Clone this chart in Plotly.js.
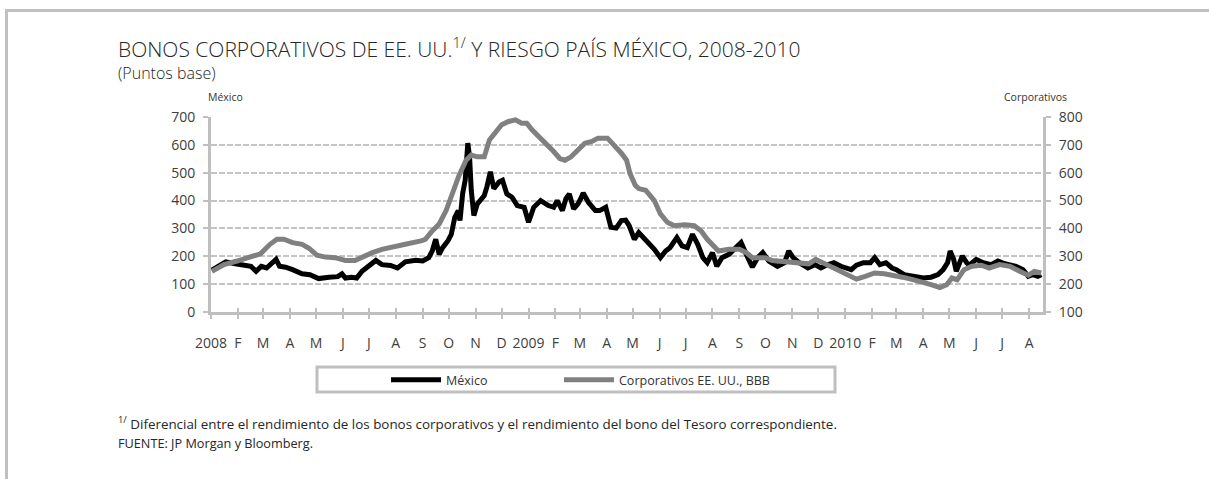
<!DOCTYPE html>
<html><head><meta charset="utf-8">
<script src="https://cdn.plot.ly/plotly-3.0.1.min.js"></script>
<style>
html,body{margin:0;padding:0;background:#fff;}
#chart{position:absolute;left:0;top:0;width:1209px;height:479px;}
#frame{position:absolute;left:5px;top:9px;width:1204px;height:470px;border-top:3px solid #c0c0c0;border-left:3px solid #c0c0c0;box-sizing:border-box;pointer-events:none;}
</style></head><body>
<div id="chart"></div><div id="frame"></div>
<script>
// ---- data ----
var monthTicks = ['2008-01-01','2008-02-01','2008-03-01','2008-04-01','2008-05-01','2008-06-01','2008-07-01','2008-08-01','2008-09-01','2008-10-01','2008-11-01','2008-12-01',
  '2009-01-01','2009-02-01','2009-03-01','2009-04-01','2009-05-01','2009-06-01','2009-07-01','2009-08-01','2009-09-01','2009-10-01','2009-11-01','2009-12-01',
  '2010-01-01','2010-02-01','2010-03-01','2010-04-01','2010-05-01','2010-06-01','2010-07-01','2010-08-01'];
var monthLabels = ['2008','F','M','A','M','J','J','A','S','O','N','D',
  '2009','F','M','A','M','J','J','A','S','O','N','D',
  '2010','F','M','A','M','J','J','A'];

var mexicoDates = ['2008-01-02','2008-01-09','2008-01-18','2008-01-29','2008-02-08','2008-02-16','2008-02-22','2008-02-28','2008-03-05','2008-03-11','2008-03-16','2008-03-20','2008-03-27',
  '2008-04-04','2008-04-15','2008-04-24','2008-05-04','2008-05-16','2008-05-26','2008-05-31','2008-06-04','2008-06-11','2008-06-17','2008-06-23','2008-07-01','2008-07-09','2008-07-16','2008-07-26',
  '2008-08-03','2008-08-12','2008-08-24','2008-09-01','2008-09-08','2008-09-12','2008-09-16','2008-09-20','2008-09-24','2008-09-30','2008-10-04','2008-10-08','2008-10-12','2008-10-14',
  '2008-10-17','2008-10-20','2008-10-23','2008-10-25','2008-10-27','2008-10-30','2008-11-03','2008-11-07','2008-11-11','2008-11-14','2008-11-18','2008-11-22','2008-11-28','2008-12-02',
  '2008-12-07','2008-12-13','2008-12-19','2008-12-27','2009-01-01','2009-01-07','2009-01-15','2009-01-24','2009-01-30','2009-02-03','2009-02-09','2009-02-13','2009-02-17','2009-02-22',
  '2009-02-27','2009-03-02','2009-03-05','2009-03-11','2009-03-19','2009-03-24','2009-03-31','2009-04-06','2009-04-12','2009-04-18','2009-04-23','2009-04-27','2009-05-03','2009-05-08',
  '2009-05-14','2009-05-20','2009-05-26','2009-06-02','2009-06-08','2009-06-13','2009-06-21','2009-06-27','2009-07-03','2009-07-09','2009-07-15','2009-07-21','2009-07-26','2009-08-01',
  '2009-08-06','2009-08-12','2009-08-20','2009-08-28','2009-09-03','2009-09-09','2009-09-16','2009-09-22','2009-09-28','2009-10-05','2009-10-15','2009-10-23','2009-10-28','2009-11-02',
  '2009-11-09','2009-11-19','2009-11-27','2009-12-04','2009-12-10','2009-12-19','2009-12-27','2010-01-08','2010-01-14','2010-01-22','2010-01-30','2010-02-04','2010-02-10','2010-02-17',
  '2010-02-24','2010-03-01','2010-03-10','2010-03-22','2010-04-01','2010-04-10','2010-04-18','2010-04-24','2010-04-29','2010-05-02','2010-05-06','2010-05-09','2010-05-13','2010-05-16',
  '2010-05-21','2010-05-24','2010-06-01','2010-06-09','2010-06-18','2010-06-26','2010-07-04','2010-07-12','2010-07-17','2010-07-25','2010-07-31','2010-08-05','2010-08-11','2010-08-15'];
var mexicoValues = [150,164,180,173,168,164,146,164,158,177,189,164,161,
  152,137,134,120,125,127,137,122,125,122,146,168,185,170,167,
  158,180,186,183,195,219,261,207,231,255,279,340,364,328,
  424,473,606,557,437,346,388,400,418,449,503,443,467,473,
  424,412,382,376,322,376,400,382,376,400,364,406,424,370,
  388,406,427,394,364,364,376,304,301,328,330,310,261,285,
  267,243,225,195,219,231,267,237,231,279,243,195,177,213,
  164,195,207,231,249,207,161,195,213,183,164,177,219,195,
  177,158,170,158,168,177,164,152,168,177,177,195,170,177,
  158,152,134,128,122,125,134,152,177,219,189,146,177,201,
  177,168,189,177,170,183,173,170,164,152,128,134,128,134];

var corpDates = ['2008-01-02','2008-01-16','2008-01-31','2008-02-15','2008-02-27','2008-03-09','2008-03-17','2008-03-25','2008-04-04','2008-04-15','2008-04-23','2008-05-02','2008-05-12',
  '2008-05-23','2008-06-04','2008-06-15','2008-06-23','2008-07-05','2008-07-16','2008-07-28','2008-08-12','2008-08-30','2008-09-04','2008-09-12','2008-09-20','2008-09-28','2008-10-06',
  '2008-10-13','2008-10-21','2008-10-27','2008-11-03','2008-11-11','2008-11-17','2008-11-24','2008-12-01','2008-12-09','2008-12-17','2008-12-24','2008-12-30','2009-01-05','2009-01-13',
  '2009-01-21','2009-01-30','2009-02-06','2009-02-12','2009-02-19','2009-02-28','2009-03-07','2009-03-15','2009-03-22','2009-04-02','2009-04-10','2009-04-18','2009-04-24','2009-04-28',
  '2009-05-04','2009-05-08','2009-05-16','2009-05-26','2009-06-02','2009-06-10','2009-06-18','2009-06-30','2009-07-11','2009-07-19','2009-07-26','2009-08-03','2009-08-08','2009-08-20',
  '2009-09-01','2009-09-09','2009-09-16','2009-09-24','2009-10-01','2009-10-09','2009-10-20','2009-11-01','2009-11-12','2009-11-20','2009-11-28','2009-12-06','2009-12-13','2009-12-24',
  '2010-01-03','2010-01-14','2010-01-24','2010-02-04','2010-02-15','2010-02-26','2010-03-08','2010-03-20','2010-04-01','2010-04-10','2010-04-20','2010-04-28','2010-05-04','2010-05-10',
  '2010-05-18','2010-05-27','2010-06-07','2010-06-16','2010-06-28','2010-07-10','2010-07-21','2010-07-31','2010-08-07','2010-08-15'];
var corpValues = [246,270,283,297,309,343,361,361,349,343,329,304,297,
  295,285,285,297,313,325,331,343,355,361,391,416,464,537,
  591,645,663,657,657,718,742,772,784,790,778,778,754,730,
  706,676,651,645,657,682,706,712,724,724,700,670,645,597,
  555,543,537,500,452,422,410,413,410,391,361,331,319,325,
  325,313,295,295,295,285,283,280,277,273,289,277,264,252,
  234,218,228,240,237,232,225,216,208,198,188,198,222,216,
  252,264,268,258,270,264,246,232,246,240];

var seriesNames = ['México','Corporativos EE. UU., BBB'];

// ---- layout helpers (pixel geometry of the plot area) ----
var L = 211, R = 1043, T = 117, B = 312;
function px(x){ return (x - L) / (R - L); }
function py(y){ return (B - y) / (B - T); }

var FONT = 'Open Sans, Noto Sans, sans-serif';
var AX = '#bfbfbf';
var TXT = '#333333';

var traces = [
  {x: mexicoDates, y: mexicoValues, name: seriesNames[0], type: 'scatter', mode: 'lines',
   line: {color: '#000000', width: 5}, yaxis: 'y', xaxis: 'x', legend: 'legend', hoverinfo: 'x+y'},
  {x: corpDates, y: corpValues, name: seriesNames[1], type: 'scatter', mode: 'lines',
   line: {color: '#808080', width: 5}, yaxis: 'y2', xaxis: 'x', legend: 'legend2', hoverinfo: 'x+y'},
  {x: [monthTicks[0]], y: [null], xaxis: 'x2', yaxis: 'y', showlegend: false, hoverinfo: 'skip', mode: 'lines'}
];

var tickFont = {family: FONT, size: 14, color: '#404040'};
var legendFont = {family: FONT, size: 12.5, color: TXT};

var layout = {
  width: 1209, height: 479,
  margin: {l: L, r: 1209 - R, t: T, b: 479 - B, pad: 0},
  paper_bgcolor: '#ffffff', plot_bgcolor: '#ffffff',
  font: {family: FONT, color: '#404040', size: 12},
  showlegend: true,
  xaxis: {
    type: 'date', range: ['2008-01-01', '2010-08-17'],
    tickmode: 'array', tickvals: monthTicks, ticktext: monthLabels,
    ticks: 'outside', ticklen: 4, tickwidth: 2, tickcolor: AX,
    showline: true, linecolor: AX, linewidth: 3,
    showgrid: false, zeroline: false,
    tickfont: tickFont, ticklabelstandoff: 12, fixedrange: true
  },
  xaxis2: {
    type: 'date', overlaying: 'x', matches: 'x', anchor: 'y', side: 'bottom',
    tickmode: 'array', tickvals: monthTicks,
    ticks: 'inside', ticklen: 4, tickwidth: 2, tickcolor: AX,
    showticklabels: false, showline: false, showgrid: false, zeroline: false
  },
  yaxis: {
    range: [0, 700], tickmode: 'linear', tick0: 0, dtick: 100,
    showgrid: true, gridcolor: '#c4c4c4', gridwidth: 2, griddash: '6px,2px',
    showline: true, linecolor: AX, linewidth: 3,
    ticks: 'outside', ticklen: 5, tickwidth: 2, tickcolor: AX,
    zeroline: false, tickfont: tickFont, ticklabelstandoff: 5, fixedrange: true
  },
  yaxis2: {
    range: [100, 800], tickmode: 'linear', tick0: 100, dtick: 100,
    overlaying: 'y', side: 'right', anchor: 'x',
    showgrid: false, showline: true, linecolor: AX, linewidth: 3,
    ticks: 'outside', ticklen: 5, tickwidth: 2, tickcolor: AX,
    zeroline: false, tickfont: tickFont, ticklabelstandoff: 5, fixedrange: true
  },
  legend: {
    orientation: 'h', x: px(386), y: py(380), xanchor: 'left', yanchor: 'middle',
    bgcolor: 'rgba(0,0,0,0)', borderwidth: 0, font: legendFont, itemwidth: 50
  },
  legend2: {
    orientation: 'h', x: px(559), y: py(380), xanchor: 'left', yanchor: 'middle',
    bgcolor: 'rgba(0,0,0,0)', borderwidth: 0, font: legendFont, itemwidth: 50
  },
  shapes: [
    {type: 'rect', xref: 'paper', yref: 'paper', x0: px(317), x1: px(835), y0: py(392), y1: py(367),
     line: {color: '#bfbfbf', width: 3}, fillcolor: 'rgba(0,0,0,0)', layer: 'below'}
  ],
  annotations: [
    {text: 'BONOS CORPORATIVOS DE EE. UU.<sup>1/</sup> Y RIESGO PAÍS MÉXICO, 2008-2010',
     xref: 'paper', yref: 'paper', x: px(116), y: py(48), xanchor: 'left', yanchor: 'middle',
     showarrow: false, font: {family: FONT, size: 21, color: '#262626', weight: 300}},
    {text: '(Puntos base)', xref: 'paper', yref: 'paper', x: px(116), y: py(73), xanchor: 'left', yanchor: 'middle',
     showarrow: false, font: {family: FONT, size: 16, color: '#262626', weight: 300}},
    {text: 'México', xref: 'paper', yref: 'paper', x: px(206), y: py(97), xanchor: 'left', yanchor: 'middle',
     showarrow: false, font: {family: FONT, size: 10.5, color: TXT}},
    {text: 'Corporativos', xref: 'paper', yref: 'paper', x: px(1069), y: py(97), xanchor: 'right', yanchor: 'middle',
     showarrow: false, font: {family: FONT, size: 10.5, color: TXT}},
    {text: '<sup>1/</sup> Diferencial entre el rendimiento de los bonos corporativos y el rendimiento del bono del Tesoro correspondiente.',
     xref: 'paper', yref: 'paper', x: px(116), y: py(423), xanchor: 'left', yanchor: 'middle',
     showarrow: false, font: {family: FONT, size: 13.4, color: '#262626'}},
    {text: 'FUENTE: JP Morgan y Bloomberg.', xref: 'paper', yref: 'paper', x: px(116), y: py(443), xanchor: 'left', yanchor: 'middle',
     showarrow: false, font: {family: FONT, size: 12.7, color: '#262626'}}
  ]
};

Plotly.newPlot('chart', traces, layout, {displayModeBar: false, staticPlot: true});
</script>
</body></html>
